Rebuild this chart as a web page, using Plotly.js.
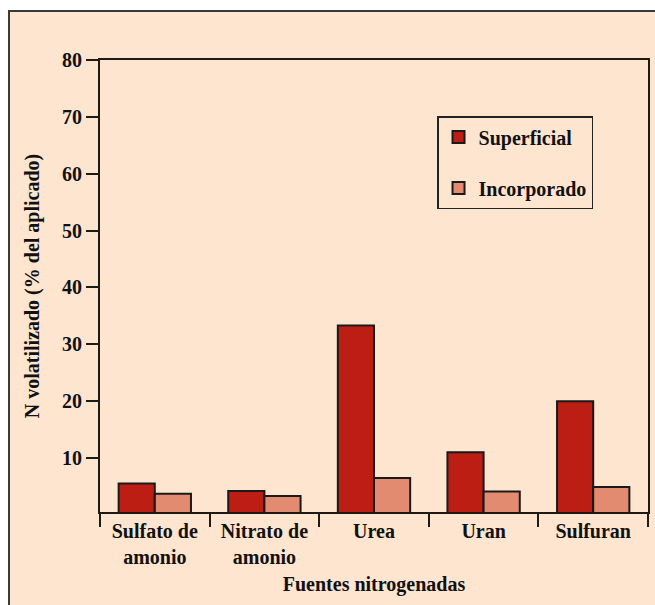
<!DOCTYPE html>
<html>
<head>
<meta charset="utf-8">
<script src="https://cdn.plot.ly/plotly-3.0.1.min.js"></script>
<style>
  html, body { margin: 0; padding: 0; background: #ffffff; width: 655px; height: 605px; overflow: hidden; }
  #chart { position: absolute; left: 8px; top: 10px; width: 645px; height: 593px;
           border-left: 2px solid #3a3a3a; border-top: 2px solid #3a3a3a; background: #FDE5CF; }
</style>
</head>
<body>
<div id="chart"></div>
<script>
const categories = ["Sulfato de<br>amonio", "Nitrato de<br>amonio", "Urea", "Uran", "Sulfuran"];
const superficial = [5.5, 4.2, 33.3, 11.0, 20.0];
const incorporado = [3.7, 3.3, 6.5, 4.1, 4.9];
const seriesNames = ["Superficial", "Incorporado"];
const yTicks = [10, 20, 30, 40, 50, 60, 70, 80];

const FONT = "Liberation Serif, Times New Roman, serif";
const INK = "#1e1a14";

const traces = [
  { type: "bar", name: seriesNames[0], x: categories, y: superficial,
    marker: { color: "#BC1E14", line: { color: "#1a1a1a", width: 2 } },
    legendgroup: "a", hoverinfo: "skip" },
  { type: "bar", name: seriesNames[1], x: categories, y: incorporado,
    marker: { color: "#E28B70", line: { color: "#1a1a1a", width: 2 } },
    legendgroup: "b", hoverinfo: "skip" }
];

const layout = {
  width: 645, height: 593,
  margin: { l: 90, r: 7, t: 48, b: 93 },
  paper_bgcolor: "#FDE5CF",
  plot_bgcolor: "#FDE5CF",
  font: { family: FONT, size: 20, color: "#111", weight: "bold" },
  barmode: "group",
  bargap: 0.34,
  bargroupgap: 0,
  showlegend: true,
  legend: {
    x: 0.615, y: 0.876, xanchor: "left", yanchor: "top",
    bgcolor: "rgba(0,0,0,0)", bordercolor: "#222", borderwidth: 1.5,
    font: { family: FONT, size: 20, color: "#111", weight: "bold" },
    traceorder: "grouped", tracegroupgap: 22, itemwidth: 30
  },
  xaxis: {
    type: "category",
    tickson: "boundaries",
    ticks: "outside", ticklen: 13, tickwidth: 2, tickcolor: INK,
    showline: true, linewidth: 2, linecolor: INK, mirror: true,
    showgrid: false, zeroline: false,
    tickfont: { family: FONT, size: 20, color: "#111", weight: "bold" },
    title: { text: "Fuentes nitrogenadas", standoff: 10,
             font: { family: FONT, size: 20, color: "#111", weight: "bold" } },
    automargin: false
  },
  yaxis: {
    range: [0.5, 80],
    tickvals: yTicks,
    ticks: "outside", ticklen: 12, tickwidth: 2, tickcolor: INK,
    showline: true, linewidth: 2, linecolor: INK, mirror: true,
    showgrid: false, zeroline: false,
    tickfont: { family: FONT, size: 20, color: "#111", weight: "bold" },
    title: { text: "N volatilizado (% del aplicado)", standoff: 17,
             font: { family: FONT, size: 20, color: "#111", weight: "bold" } },
    automargin: false
  }
};

Plotly.newPlot("chart", traces, layout, { displayModeBar: false, staticPlot: true });
</script>
</body>
</html>
